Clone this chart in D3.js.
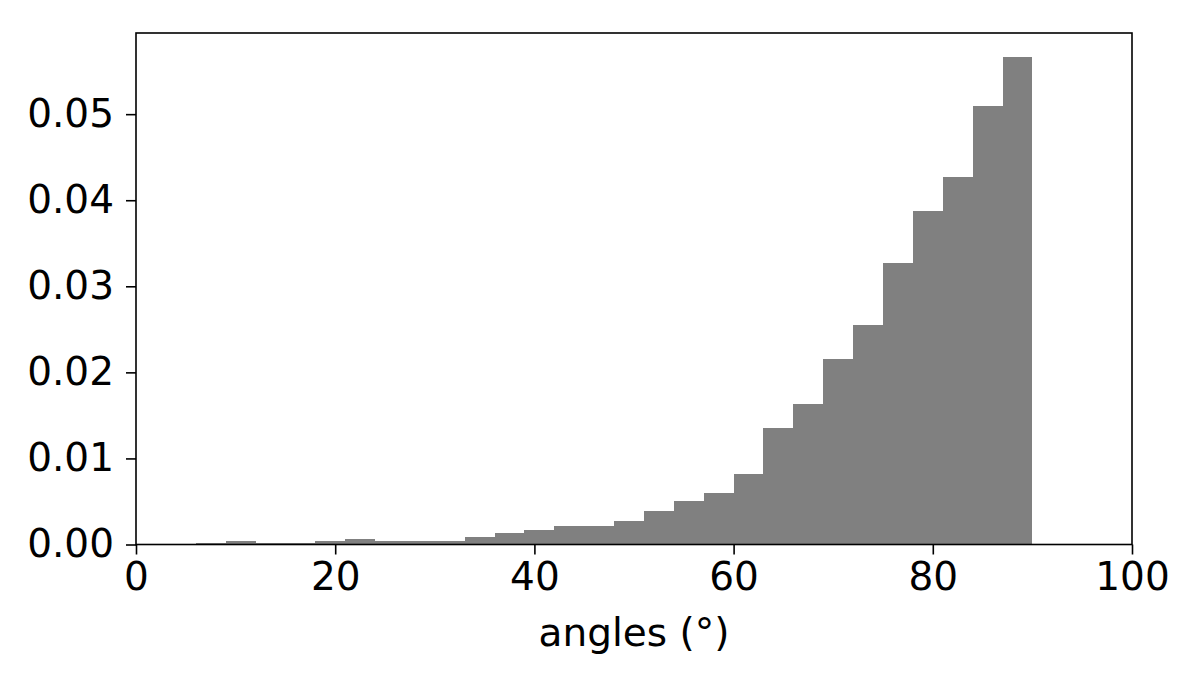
<!DOCTYPE html>
<html>
<head>
<meta charset="utf-8">
<script src="https://cdn.jsdelivr.net/npm/d3@7"></script>
<style>
  body { margin: 0; background: #fff; }
  svg text { font-family: "DejaVu Sans", sans-serif; fill: #000; }
</style>
</head>
<body>
<div id="chart"></div>
<script>
// histogram bins: 3 degree wide, from 6 to 90
var binStart = 6
var binWidth = 3
var density = [0.0002, 0.0004, 0.0002, 0.0002, 0.0004, 0.0006, 0.0004, 0.0004,
    0.0004, 0.0009, 0.0013, 0.0017, 0.0021, 0.0021, 0.0027, 0.0039, 0.0050,
    0.0060, 0.0082, 0.0135, 0.0163, 0.0216, 0.0255, 0.0327, 0.0388, 0.0427,
    0.0509, 0.0566]
var xTicks = [0, 20, 40, 60, 80, 100]
var yTicks = [0, 0.01, 0.02, 0.03, 0.04, 0.05]

var width = 1196
height = 684
var margin = {left: 136, right: 64, top: 33, bottom: 139.5}
var fontSize = "39px"

var bins = density.map(function (d, i) {
    return {x0: binStart + i * binWidth, x1: binStart + (i + 1) * binWidth, value: d}
})

var svg = d3.select("#chart")
    .append("svg")
    .attr("width", width)
    .attr("height", height)

var x = d3.scaleLinear()
    .domain([0, 100])
    .range([margin.left, width - margin.right])

var yMax = d3.max(density) * 1.05
var y = d3.scaleLinear()
    .domain([0, yMax])
    .range([height - margin.bottom, margin.top])

// bars
svg.selectAll("rect.bar")
    .data(bins)
    .enter()
    .append("rect")
    .attr("class", "bar")
    .attr("x", function (d) { return x(d.x0) })
    .attr("width", function (d) { return x(d.x1) - x(d.x0) })
    .attr("y", function (d) { return y(d.value) })
    .attr("height", function (d) { return y(0) - y(d.value) })
    .attr("fill", "#808080")
    .attr("shape-rendering", "crispEdges")

// axes
var xAxis = svg.append("g")
    .attr("transform", "translate(0," + y(0) + ")")
    .call(d3.axisBottom(x).tickValues(xTicks).tickSize(10).tickPadding(8)
        .tickFormat(d3.format("d")))
var yAxis = svg.append("g")
    .attr("transform", "translate(" + margin.left + ",0)")
    .call(d3.axisLeft(y).tickValues(yTicks).tickSize(10).tickPadding(12)
        .tickFormat(d3.format(".2f")))

svg.selectAll(".domain").remove()
svg.selectAll(".tick line").attr("stroke", "#000").attr("stroke-width", 1.6)
svg.selectAll(".tick text")
    .style("font-size", fontSize)
    .style("font-family", "DejaVu Sans")
    .attr("fill", "#000")

// frame
svg.append("rect")
    .attr("x", x(0))
    .attr("y", margin.top)
    .attr("width", x(100) - x(0))
    .attr("height", y(0) - margin.top)
    .attr("fill", "none")
    .attr("stroke", "#000")
    .attr("stroke-width", 1.6)

svg.append("text")
    .attr("x", (x(0) + x(100)) / 2)
    .attr("y", 646)
    .attr("text-anchor", "middle")
    .style("font-size", fontSize)
    .text("angles (°)")
</script>
</body>
</html>
